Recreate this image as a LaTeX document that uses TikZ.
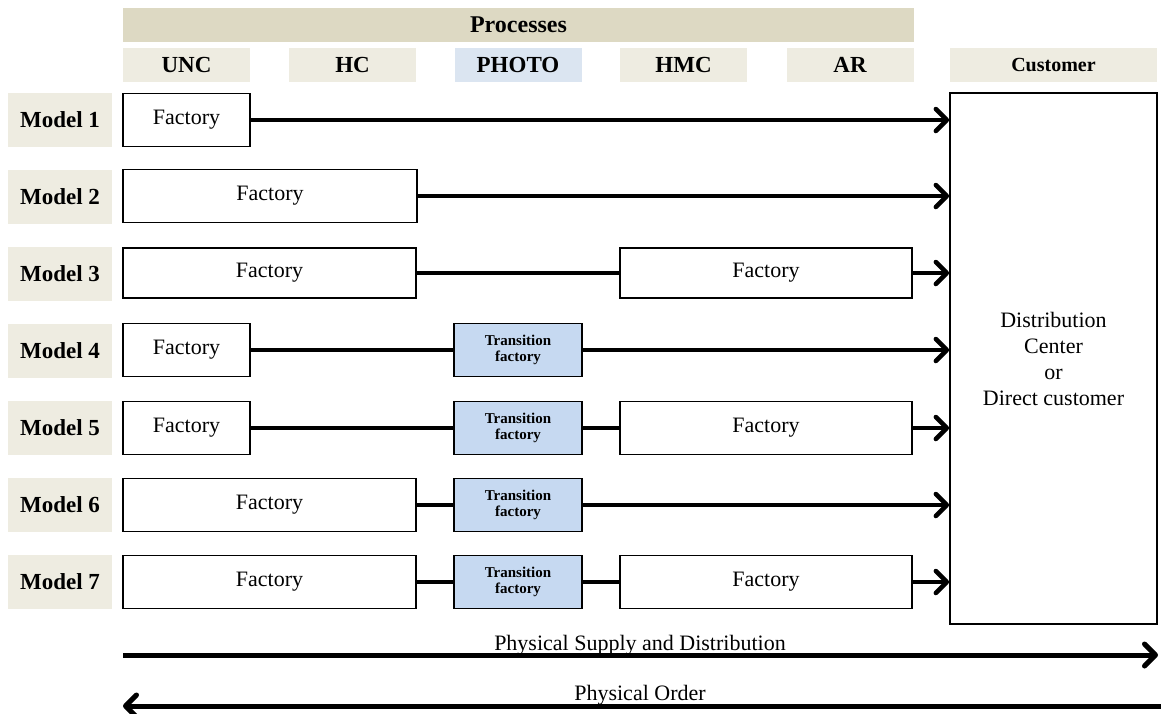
\documentclass[tikz,border=0pt]{standalone}
\usepackage{fontspec}
\setmainfont{Liberation Serif}
\usetikzlibrary{arrows.meta}

\definecolor{bartan}{HTML}{DDD9C3}
\definecolor{celltan}{HTML}{EEECE1}
\definecolor{cellblue}{HTML}{DBE5F1}
\definecolor{transblue}{HTML}{C6D9F1}

\tikzset{
  plantbox/.style={draw, line width=1.8pt, fill=white, minimum height=53pt,
    inner sep=0pt, font=\fontsize{22}{24}\selectfont},
  transbox/.style={plantbox, fill=transblue, align=center,
    font=\bfseries\fontsize{15}{16}\selectfont},
  headcell/.style={fill=celltan, minimum height=34pt, minimum width=127pt,
    inner sep=0pt, font=\bfseries\fontsize{23}{25}\selectfont},
  modelcell/.style={fill=celltan, minimum height=54pt, minimum width=104pt,
    inner sep=0pt, font=\bfseries\fontsize{23}{25}\selectfont},
  link/.style={line width=4.5pt},
  flow/.style={line width=4.5pt,
    -{Straight Barb[length=11pt,width=22pt,round]}},
  sideflow/.style={line width=5pt,
    -{Straight Barb[length=11pt,width=22pt,round]}},
  caption/.style={font=\fontsize{22}{24}\selectfont, inner sep=0pt}
}

\begin{document}
\begin{tikzpicture}[x=1pt, y=-1pt]
\path[use as bounding box] (0,0) rectangle (1161,713);

% process header band and column cells
\node[fill=bartan, minimum width=791pt, minimum height=34pt, inner sep=0pt,
  font=\bfseries\fontsize{24}{26}\selectfont] (proc) at (518.5,25) {Processes};
\node[headcell] (unc) at (186.5,65) {UNC};
\node[headcell] (hc) at (352.5,65) {HC};
\node[headcell, fill=cellblue] (photo) at (518,65) {PHOTO};
\node[headcell] (hmc) at (683.5,65) {HMC};
\node[headcell] (ar) at (850,65) {AR};
\node[headcell, minimum width=207pt, font=\bfseries\fontsize{20}{22}\selectfont]
  (custhead) at (1053.5,65) {Customer};

% customer block
\node[draw, line width=1.8pt, fill=white, minimum width=207pt, minimum height=531pt,
  inner sep=0pt, align=center, font=\fontsize{22}{26}\selectfont]
  (cust) at (1053.5,358.5) {Distribution\\Center\\or\\Direct customer};

% row labels
\node[modelcell] (l1) at (60,120) {Model 1};
\node[modelcell] (l2) at (60,197) {Model 2};
\node[modelcell] (l3) at (60,274) {Model 3};
\node[modelcell] (l4) at (60,351) {Model 4};
\node[modelcell] (l5) at (60,428) {Model 5};
\node[modelcell] (l6) at (60,505) {Model 6};
\node[modelcell] (l7) at (60,582) {Model 7};

% Model 1
\node[plantbox, minimum width=127pt] (f1) at (186.5,120) {Factory};
\draw[flow] (f1.east) -- (f1.east -| cust.west);

% Model 2
\node[plantbox, minimum width=294pt] (f2) at (270,196) {Factory};
\draw[flow] (f2.east) -- (f2.east -| cust.west);

% Model 3
\node[plantbox, minimum width=293pt, minimum height=50pt] (f3a) at (269.5,273) {Factory};
\node[plantbox, minimum width=292pt, minimum height=50pt] (f3b) at (766,273) {Factory};
\draw[link] (f3a.east) -- (f3b.west);
\draw[flow] (f3b.east) -- (f3b.east -| cust.west);

% Model 4
\node[plantbox, minimum width=127pt] (f4) at (186.5,350) {Factory};
\node[transbox, minimum width=128pt] (t4) at (518,350) {Transition\\factory};
\draw[link] (f4.east) -- (t4.west);
\draw[flow] (t4.east) -- (t4.east -| cust.west);

% Model 5
\node[plantbox, minimum width=127pt] (f5a) at (186.5,428) {Factory};
\node[transbox, minimum width=128pt] (t5) at (518,428) {Transition\\factory};
\node[plantbox, minimum width=292pt] (f5b) at (766,428) {Factory};
\draw[link] (f5a.east) -- (t5.west);
\draw[link] (t5.east) -- (f5b.west);
\draw[flow] (f5b.east) -- (f5b.east -| cust.west);

% Model 6
\node[plantbox, minimum width=293pt] (f6) at (269.5,505) {Factory};
\node[transbox, minimum width=128pt] (t6) at (518,505) {Transition\\factory};
\draw[link] (f6.east) -- (t6.west);
\draw[flow] (t6.east) -- (t6.east -| cust.west);

% Model 7
\node[plantbox, minimum width=293pt] (f7a) at (269.5,582) {Factory};
\node[transbox, minimum width=128pt] (t7) at (518,582) {Transition\\factory};
\node[plantbox, minimum width=292pt] (f7b) at (766,582) {Factory};
\draw[link] (f7a.east) -- (t7.west);
\draw[link] (t7.east) -- (f7b.west);
\draw[flow] (f7b.east) -- (f7b.east -| cust.west);

% physical flows along the bottom
\coordinate (supA) at (123,655);
\coordinate (supB) at (1158,655);
\coordinate (ordA) at (1161,706);
\coordinate (ordB) at (123,706);
\draw[sideflow] (supA) -- (supB);
\draw[sideflow] (ordA) -- (ordB);
\node[caption, anchor=base] (supT) at (640,650) {Physical Supply and Distribution};
\node[caption, anchor=base] (ordT) at (640,700) {Physical Order};
\end{tikzpicture}
\end{document}
